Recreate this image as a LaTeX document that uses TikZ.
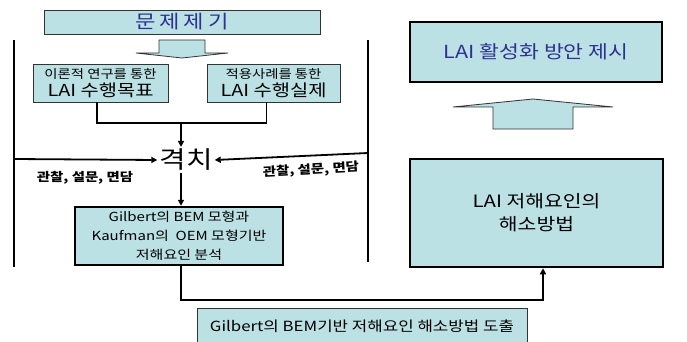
\documentclass[tikz,border=0pt]{standalone}
\usepackage{fontspec}
\setmainfont[FakeStretch=1.2]{Noto Sans CJK KR}
\usetikzlibrary{arrows.meta}
\definecolor{boxfill}{HTML}{BCE1E4}
\definecolor{boxtext}{HTML}{2E3192}
\tikzset{
  thinbox/.style={draw=black!80,line width=0.8pt,fill=boxfill,inner sep=0pt,align=center},
  thickbox/.style={draw=black,line width=2.5pt,fill=boxfill,inner sep=0pt,align=center},
  wire/.style={draw=black,line width=1.8pt},
  flow/.style={wire,-{Triangle[length=6pt,width=6pt]}}
}
\begin{document}
\begin{tikzpicture}[x=1pt,y=-1pt]
\useasboundingbox[fill=white] (0,0) rectangle (687,342);
% Drawing boxes
\node[thinbox,minimum width=276pt,minimum height=24pt,text=boxtext,font=\fontsize{18.5}{20}\selectfont] (title) at (182,22) {문\hspace{4pt}제\hspace{4pt}제\hspace{4pt}기};
\node[thinbox,minimum width=135pt,minimum height=38pt] (goal) at (100.5,83)
  {{\fontsize{12}{14}\selectfont 이론적 연구를 통한}\\[2pt]{\fontsize{16.5}{17}\selectfont LAI 수행목표}};
\node[thinbox,minimum width=133pt,minimum height=38pt] (practice) at (273.5,83)
  {{\fontsize{12}{14}\selectfont 적용사례를 통한}\\[2pt]{\fontsize{16.5}{17}\selectfont LAI 수행실제}};
\node[inner sep=2pt,font=\fontsize{24}{26}\selectfont] (gap) at (186,160) {격치};
\node[thickbox,minimum width=208pt,minimum height=58pt,font=\fontsize{12.5}{19}\selectfont] (bem) at (179,236)
  {Gilbert의 BEM 모형과\\Kaufman의\ \ OEM 모형기반\\저해요인 분석};
\node[thickbox,minimum width=253pt,minimum height=108pt,font=\fontsize{17}{23}\selectfont] (fix) at (536.5,213)
  {LAI 저해요인의\\해소방법};
\node[thickbox,minimum width=252pt,minimum height=60pt,text=boxtext,font=\fontsize{18}{20}\selectfont] (plan) at (536,52)
  {LAI 활성화 방안 제시};
\node[thinbox,minimum width=330pt,minimum height=36pt,font=\fontsize{14}{16}\selectfont] (derive) at (362,326)
  {Gilbert의 BEM기반 저해요인 해소방법 도출};
% Drawing block arrows
\filldraw[draw=black!80,line width=0.8pt,fill=boxfill] (159,40) -- (205,40) -- (205,53) -- (228,53) -- (182,58) -- (136,53) -- (159,53) -- cycle;
\filldraw[draw=black!80,line width=0.8pt,fill=boxfill] (493,129) -- (573,129) -- (573,107) -- (613,107) -- (533,99) -- (453,107) -- (493,107) -- cycle;
% Drawing side lines
\coordinate (ltop) at (14,40);
\coordinate (lobs) at (14,159);
\coordinate (lbot) at (14,267);
\coordinate (rtop) at (368,40);
\coordinate (robs) at (368,153);
\coordinate (rbot) at (368,262);
\draw[wire] (ltop) -- (lbot);
\draw[wire] (rtop) -- (rbot);
% Drawing connectors
\coordinate (join) at (181,123);
\coordinate (turn) at (543,300);
\draw[wire] ([xshift=-3.5pt]goal.south) |- (join) -| ([xshift=-7pt]practice.south);
\draw[flow] (join) -- (join |- gap.north);
\draw[flow] (lobs) -- (gap.west);
\draw[flow] (robs) -- (gap.east);
\draw[flow] (join |- gap.south) -- (join |- bem.north);
\draw[flow] (join |- bem.south) |- (turn) -- (turn |- fix.south);
% Drawing labels
\node[font=\fontsize{12}{14}\selectfont\bfseries] (lobslabel) at (85,178) {관찰, 설문, 면담};
\node[font=\fontsize{12}{14}\selectfont\bfseries,rotate=3] (robslabel) at (311,170) {관찰, 설문, 면담};
\end{tikzpicture}
\end{document}
